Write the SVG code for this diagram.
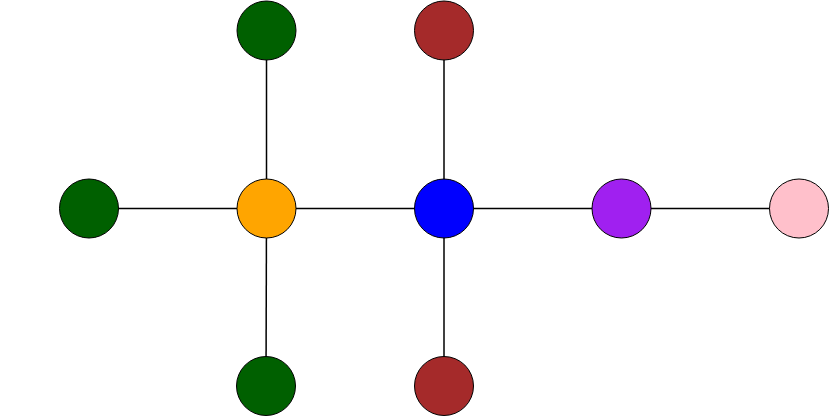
<svg xmlns="http://www.w3.org/2000/svg" width="830" height="417" viewBox="0 0 830 417">
<style>
.n{stroke:#000;stroke-width:1}
.e{stroke:#000;stroke-width:1.5;fill:none}
</style>
<rect width="830" height="417" fill="#fff"/>
<g id="edges">
<line class="e" x1="89" y1="208.5" x2="266.5" y2="208.5"/>
<line class="e" x1="266.5" y1="208.5" x2="444" y2="208.5"/>
<line class="e" x1="444" y1="208.5" x2="621.5" y2="208.5"/>
<line class="e" x1="621.5" y1="208.5" x2="799" y2="208.5"/>
<line class="e" x1="266.5" y1="30.5" x2="266.5" y2="208.5"/>
<line class="e" x1="266.5" y1="208.5" x2="266" y2="386"/>
<line class="e" x1="444" y1="30.5" x2="444" y2="208.5"/>
<line class="e" x1="444" y1="208.5" x2="444" y2="386"/>
</g>
<g id="n1"><circle class="n" cx="89" cy="208.5" r="29.5" fill="#006000"/></g>
<g id="n2"><circle class="n" cx="266.5" cy="208.5" r="29.5" fill="#ffa500"/></g>
<g id="n3"><circle class="n" cx="444" cy="208.5" r="29.5" fill="#0000ff"/></g>
<g id="n4"><circle class="n" cx="621.5" cy="208.5" r="29.5" fill="#a020f0"/></g>
<g id="n5"><circle class="n" cx="799" cy="208.5" r="29.5" fill="#ffc0cb"/></g>
<g id="n6"><circle class="n" cx="266.5" cy="30.5" r="29.5" fill="#006000"/></g>
<g id="n7"><circle class="n" cx="444" cy="30.5" r="29.5" fill="#a52a2a"/></g>
<g id="n8"><circle class="n" cx="266" cy="386" r="29.5" fill="#006000"/></g>
<g id="n9"><circle class="n" cx="444" cy="386" r="29.5" fill="#a52a2a"/></g>
</svg>
